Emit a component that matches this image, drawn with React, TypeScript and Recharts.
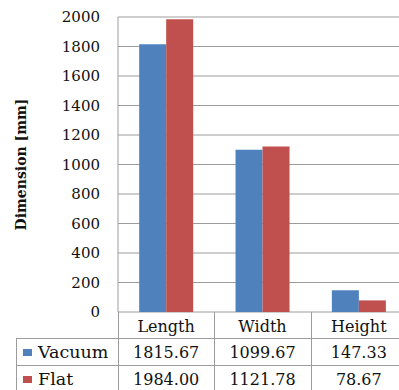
import React from "react";
import { BarChart, Bar, CartesianGrid, XAxis, YAxis } from "recharts";

const categories = ["Length", "Width", "Height"];
const vacuum = [1815.67, 1099.67, 147.33];
const flat = [1984.0, 1121.78, 78.67];
const yTicks = [0, 200, 400, 600, 800, 1000, 1200, 1400, 1600, 1800, 2000];

const series = [
  { key: "Vacuum", values: vacuum, color: "#4F81BD" },
  { key: "Flat", values: flat, color: "#C0504D" },
];

const chartData = categories.map((name, i) => ({
  name,
  Vacuum: vacuum[i],
  Flat: flat[i],
}));

const FONT = "DejaVu Serif";
const GRID = "#9c9c9c";

// chart frame
const W = 408;
const H = 390;
const PLOT_LEFT = 118;
const PLOT_TOP = 17;
const PLOT_BOTTOM = 312;
const PLOT_RIGHT = 407;

// data table rows under the plot
const ROWS = [312, 338, 365, 392];
const TABLE_LEFT = 16;

const cellText: React.CSSProperties = { fontFamily: FONT, fontSize: 16, fill: "#111" };

const DataTable: React.FC = () => {
  const band = (PLOT_RIGHT - PLOT_LEFT) / categories.length;
  const colX = categories.map((_, i) => PLOT_LEFT + i * band);
  return (
    <svg width={W} height={H} style={{ position: "absolute", left: 0, top: 0, pointerEvents: "none" }}>
      <line x1={TABLE_LEFT} x2={W} y1={ROWS[1] + 0.5} y2={ROWS[1] + 0.5} stroke={GRID} />
      <line x1={TABLE_LEFT} x2={W} y1={ROWS[2] + 0.5} y2={ROWS[2] + 0.5} stroke={GRID} />
      <line x1={TABLE_LEFT + 0.5} x2={TABLE_LEFT + 0.5} y1={ROWS[1]} y2={ROWS[3]} stroke={GRID} />
      {colX.concat([PLOT_RIGHT]).map((x, i) => (
        <line key={i} x1={Math.round(x) + 0.5} x2={Math.round(x) + 0.5} y1={PLOT_BOTTOM} y2={ROWS[3]} stroke={GRID} />
      ))}
      {categories.map((c, i) => (
        <text key={c} x={colX[i] + band / 2} y={332} textAnchor="middle" style={cellText}>
          {c}
        </text>
      ))}
      {series.map((s, r) => {
        const base = r === 0 ? 358 : 385;
        return (
          <g key={s.key}>
            <rect x={23} y={base - 9} width={9} height={7} fill={s.color} />
            <text x={38} y={base} style={{ ...cellText, fontSize: 17.5 }}>
              {s.key}
            </text>
            {s.values.map((v, i) => (
              <text key={i} x={colX[i] + band / 2} y={base} textAnchor="middle" style={cellText}>
                {v.toFixed(2)}
              </text>
            ))}
          </g>
        );
      })}
    </svg>
  );
};

const App: React.FC = () => {
  return (
    <div style={{ position: "fixed", left: 0, top: 0, width: 399, height: H, overflow: "hidden", background: "#fff" }}>
      <BarChart
        width={W}
        height={330}
        data={chartData}
        margin={{ top: PLOT_TOP, right: W - PLOT_RIGHT, bottom: 330 - PLOT_BOTTOM, left: 0 }}
        barCategoryGap="22%"
        barGap={0}
      >
        <CartesianGrid vertical={false} stroke={GRID} strokeWidth={1} />
        <XAxis dataKey="name" hide />
        <YAxis
          width={PLOT_LEFT}
          domain={[0, 2000]}
          ticks={yTicks}
          interval={0}
          tickLine={false}
          tickSize={0}
          tickMargin={18}
          axisLine={{ stroke: GRID }}
          tick={{ style: { fontFamily: FONT }, fontSize: 15, fill: "#111" }}
          label={{
            value: "Dimension [mm]",
            angle: -90,
            position: "insideLeft",
            offset: 21,
            style: { textAnchor: "middle", fontFamily: FONT, fontWeight: 700, fontSize: 14, fill: "#111" },
          }}
        />
        {series.map((s) => (
          <Bar key={s.key} dataKey={s.key} fill={s.color} isAnimationActive={false} />
        ))}
      </BarChart>
      <DataTable />
    </div>
  );
};

export default App;
